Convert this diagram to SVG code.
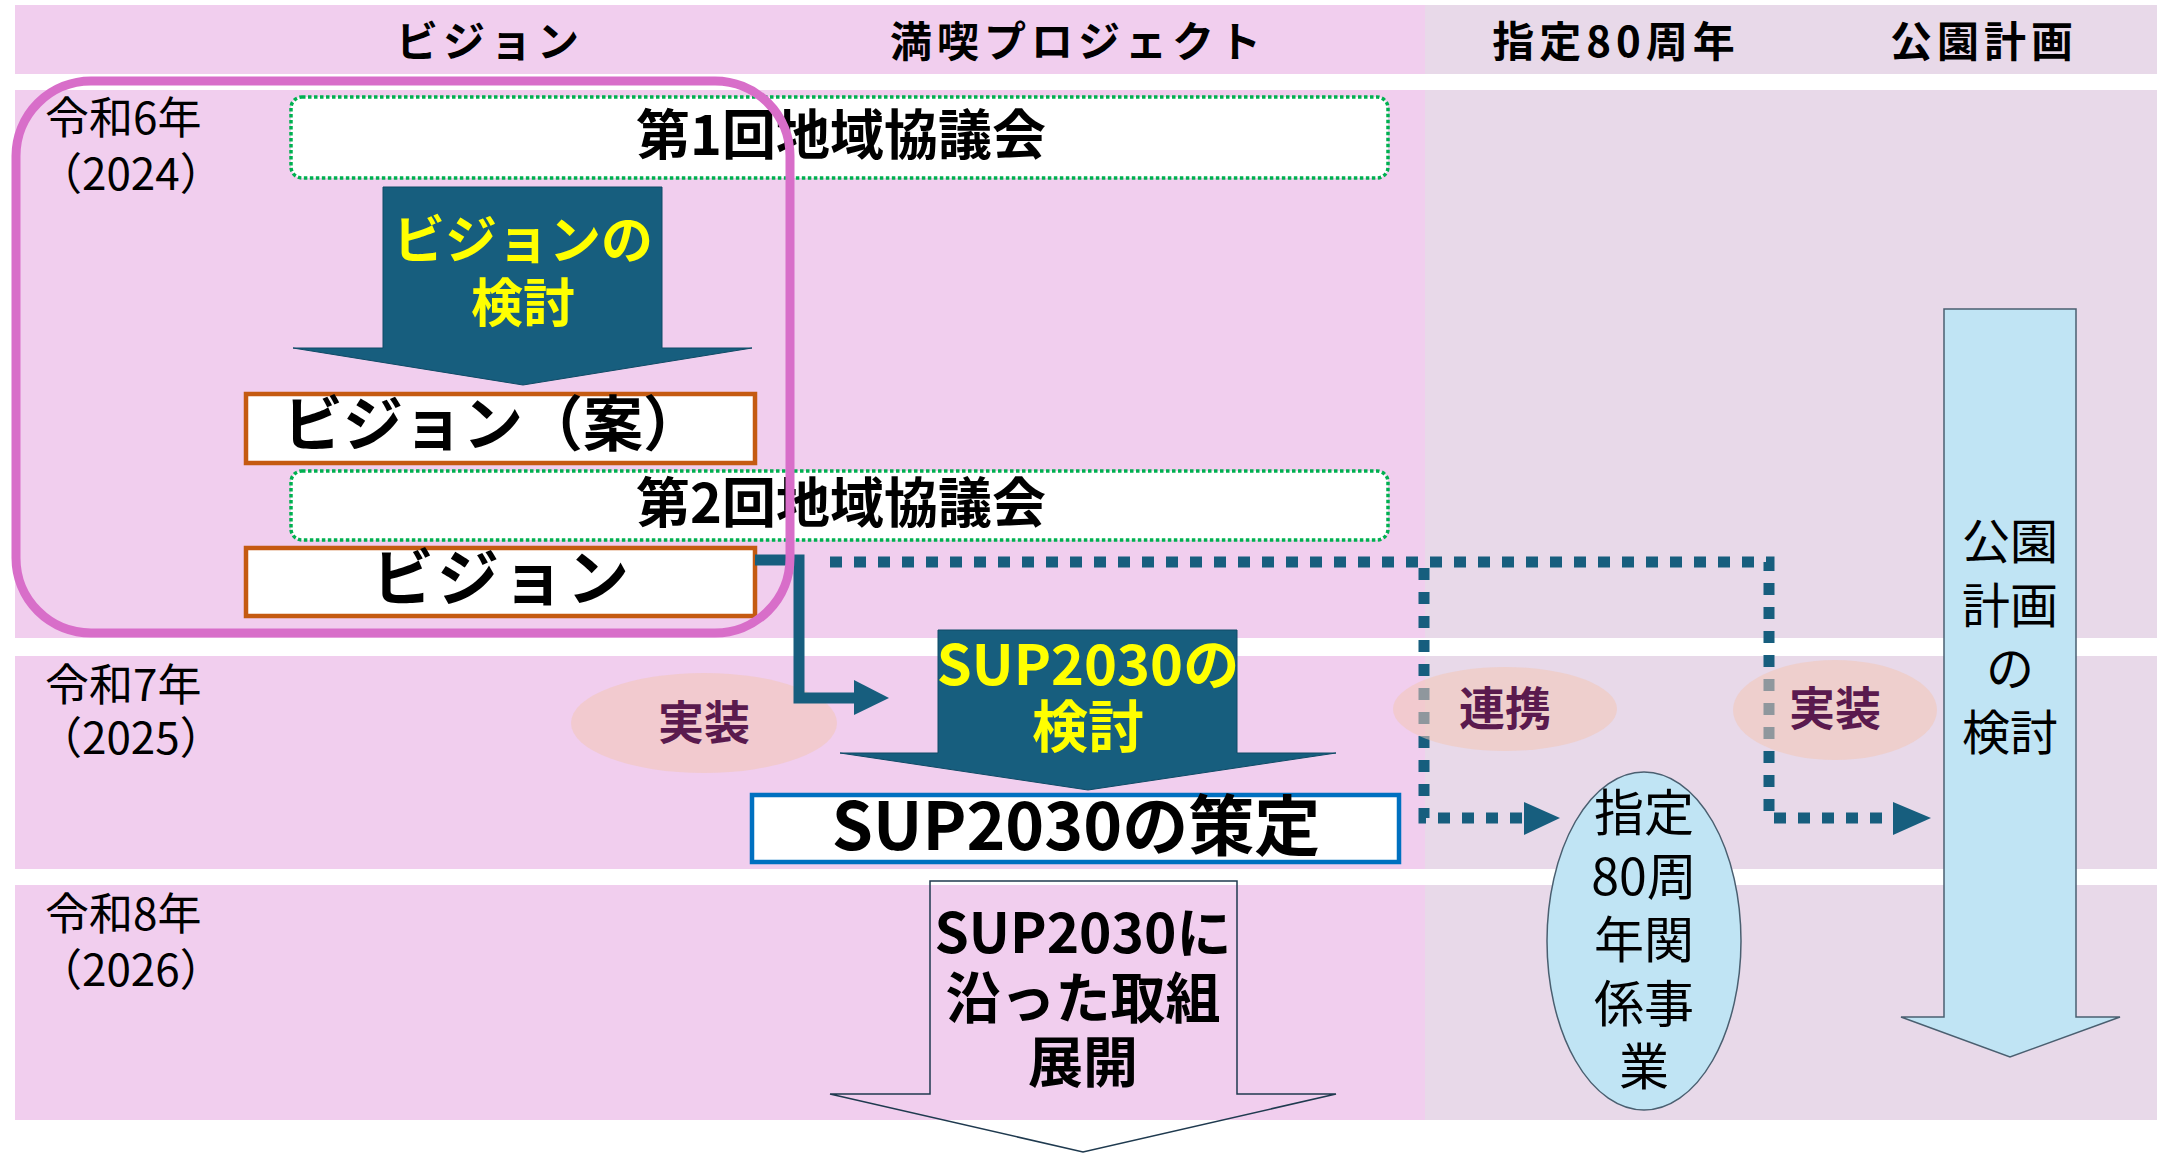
<svg xmlns="http://www.w3.org/2000/svg" width="2159" height="1154" viewBox="0 0 2159 1154">
<style>
.jp{font-family:"Noto Sans CJK JP","Noto Sans",sans-serif}
.b{font-weight:700}
.hd{font-size:42px;font-weight:700;letter-spacing:5px;text-anchor:middle;fill:#000}
.yr{font-size:44px;fill:#000}
.cfg{fill:#FFFFFF;stroke:#00B050;stroke-width:3.5;stroke-dasharray:3.5 2.5}
.cft{font-size:54px;font-weight:700;text-anchor:middle;fill:#000}
.darr{fill:#175E7E;stroke:#0F4A66;stroke-width:1}
.yel{fill:#FFFF00;font-weight:700;text-anchor:middle}
.obox{fill:#FFFFFF;stroke:#C55A11;stroke-width:4.5}
.bbox{fill:#FFFFFF;stroke:#0070C0;stroke-width:4.5}
.pel{fill:#F2C6B6;opacity:0.55}
.pt{fill:#5A1A4E;font-size:46px;font-weight:700;text-anchor:middle}
.lb{fill:#C0E4F4;stroke:#4A5F70;stroke-width:1.5}
.solid{fill:none;stroke:#175E7E;stroke-width:11}
.dot{fill:none;stroke:#175E7E;stroke-width:11;stroke-dasharray:12 12}
.ah{fill:#175E7E}
</style>
<rect width="2159" height="1154" fill="#FFFFFF"/>
<g id="background">
<rect x="15" y="5" width="1410" height="69" fill="#F1CEEE"/>
<rect x="1425" y="5" width="732" height="69" fill="#E8D9E9"/>
<rect x="15" y="90" width="1410" height="548" fill="#F1CEEE"/>
<rect x="1425" y="90" width="732" height="548" fill="#E8D9E9"/>
<rect x="15" y="656" width="1410" height="213" fill="#F1CEEE"/>
<rect x="1425" y="656" width="732" height="213" fill="#E8D9E9"/>
<rect x="15" y="885" width="1410" height="235" fill="#F1CEEE"/>
<rect x="1425" y="885" width="732" height="235" fill="#E8D9E9"/>
</g>
<g id="headers" class="jp">
<text class="hd" x="490" y="57">ビジョン</text>
<text class="hd" x="1078" y="57">満喫プロジェクト</text>
<text class="hd" x="1616" y="57">指定80周年</text>
<text class="hd" x="1984" y="57">公園計画</text>
</g>
<g id="years" class="jp yr">
<text x="45" y="134">令和6年</text>
<text x="38" y="190">（2024）</text>
<text x="45" y="701">令和7年</text>
<text x="38" y="754">（2025）</text>
<text x="45" y="930">令和8年</text>
<text x="38" y="986">（2026）</text>
</g>
<g id="jisso-left">
<ellipse class="pel" cx="704" cy="723" rx="133" ry="50"/>
<text class="jp pt" x="704" y="739">実装</text>
</g>
<g id="council1">
<rect class="cfg" x="291" y="97" width="1097" height="81" rx="11"/>
<text class="jp cft" x="841" y="155">第1回地域協議会</text>
</g>
<g id="vision-study">
<polygon class="darr" points="383,187 662,187 662,348 752,348 523,385 293,348 383,348"/>
<text class="jp yel" x="523" y="259" font-size="52">ビジョンの</text>
<text class="jp yel" x="523" y="322" font-size="52">検討</text>
</g>
<g id="vision-draft">
<rect class="obox" x="246" y="394" width="509" height="69"/>
<text class="jp b" x="283" y="446" font-size="60">ビジョン（案）</text>
</g>
<g id="council2">
<rect class="cfg" x="291" y="471" width="1097" height="69" rx="11"/>
<text class="jp cft" x="841" y="523">第2回地域協議会</text>
</g>
<g id="vision">
<rect class="obox" x="246" y="548" width="509" height="68"/>
<text class="jp b" x="502" y="601" font-size="62" letter-spacing="3" text-anchor="middle">ビジョン</text>
</g>
<g id="sup-study">
<polygon class="darr" points="938,630 1237,630 1237,753 1336,753 1088,790 840,753 938,753"/>
<text class="jp yel" x="1088" y="685" font-size="56">SUP2030の</text>
<text class="jp yel" x="1088" y="747" font-size="56">検討</text>
</g>
<g id="sup-decide">
<rect class="bbox" x="752" y="795" width="647" height="67"/>
<text class="jp b" x="1076" y="850" font-size="66" text-anchor="middle">SUP2030の策定</text>
</g>
<g id="sup-deploy">
<polygon points="930,881 1237,881 1237,1094 1336,1094 1083,1152 830,1094 930,1094" fill="none" stroke="#1F3A4F" stroke-width="1.5"/>
<text class="jp b" x="1083" y="953" font-size="55" text-anchor="middle">SUP2030に</text>
<text class="jp b" x="1083" y="1018" font-size="55" text-anchor="middle">沿った取組</text>
<text class="jp b" x="1083" y="1082" font-size="55" text-anchor="middle">展開</text>
</g>
<g id="park-plan">
<polygon class="lb" points="1944,309 2076,309 2076,1017 2120,1017 2010,1057 1901,1017 1944,1017"/>
<g class="jp" font-size="48" text-anchor="middle" fill="#000">
<text x="2010" y="559">公園</text>
<text x="2010" y="623">計画</text>
<text x="2010" y="686">の</text>
<text x="2010" y="750">検討</text>
</g>
</g>
<g id="anniversary">
<ellipse class="lb" cx="1644" cy="941" rx="97" ry="169"/>
<g class="jp" font-size="50" text-anchor="middle" fill="#000">
<text x="1644" y="831">指定</text>
<text x="1644" y="895">80周</text>
<text x="1644" y="958">年関</text>
<text x="1644" y="1022">係事</text>
<text x="1644" y="1085">業</text>
</g>
</g>
<g id="connectors">
<path class="solid" d="M755,560 H799 V698 H856"/>
<polygon class="ah" points="854,680 889,698 854,715"/>
<path class="dot" d="M830,562 H1769 V818 H1893"/>
<path class="dot" d="M1424,568 V818 H1524"/>
<polygon class="ah" points="1524,802 1560,818 1524,835"/>
<polygon class="ah" points="1893,802 1931,818 1893,835"/>
</g>
<g id="renkei">
<ellipse class="pel" cx="1505" cy="709" rx="112" ry="42"/>
<text class="jp pt" x="1505" y="725">連携</text>
</g>
<g id="jisso-right">
<ellipse class="pel" cx="1835" cy="710" rx="102" ry="50"/>
<text class="jp pt" x="1835" y="725">実装</text>
</g>
<g id="vision-frame">
<rect x="16" y="81" width="774" height="552" rx="75" fill="none" stroke="#D86EC9" stroke-width="9"/>
</g>
</svg>
